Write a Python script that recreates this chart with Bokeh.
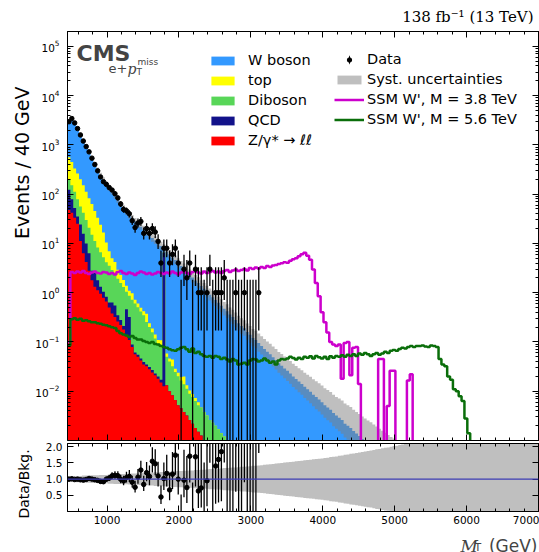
import numpy as np
from bokeh.plotting import figure
from bokeh.layouts import column
from bokeh.models import (Range1d, FixedTicker, LinearAxis, Label, Legend, LegendItem,
                          Span, NumeralTickFormatter, CustomLabelingPolicy, Title)
from bokeh.embed import file_html
from bokeh.resources import INLINE

# ---------------------------------------------------------------- binning
bin_width = 40
mt_min, mt_max = 450, 7000
n_bins = 164

# ---------------------------------------------------------------- backgrounds (events / bin)
wboson = [2390, 2940, 2490, 1880, 1420, 1080, 821, 625, 474, 361,
          276, 216, 178, 148, 125, 105, 87, 73, 61, 50,
          42.6, 35.9, 31.1, 27.3, 23.9, 21.4, 18.7, 16.3, 14.6, 12.7,
          11.4, 9.9, 8.8, 1.3, 6.74, 5.95, 5.16, 4.57, 3.98, 3.48,
          3.08, 2.69, 2.33, 2.03, 1.77, 1.57, 1.37, 1.20, 1.05, 0.91,
          0.81, 0.71, 0.62, 0.54, 0.47, 0.42, 0.36, 0.32, 0.28, 0.24,
          0.21, 0.19, 0.16, 0.14, 0.12, 0.11, 0.095, 0.083, 0.072, 0.063,
          0.056, 0.049, 0.043, 0.037, 0.033, 0.029, 0.026, 0.023, 0.020, 0.0178,
          0.0158, 0.0141, 0.0123, 0.0110, 0.0098, 0.0085, 0.0076, 0.0068, 0.0060, 0.0052,
          0.0047, 0.0042, 0.0036, 0.0032, 0.0029, 0.0026, 0.0022, 0.0020, 0.0018, 0.00155,
          0.00138, 0.00123, 0.00107, 0.00095, 0.00085, 0.00076, 0.00067, 0.0006, 0.00053, 0.00047,
          0.00042, 0.00037, 0.00033, 0.0003, 0.00026, 0.00023, 0.0002, 0.00018, 0.00016, 0.00014]

top = [362, 296, 219, 184, 144, 109, 82, 62, 48, 34.5,
       24.8, 17.4, 11.4, 6.3, 3.4, 2.1, 1.9, 1.0, 0.71, 0.5,
       0.33, 0.23, 0.25, 0.12, 0.10, 0.08, 0.07, 0.12, 0.04, 0.03,
       0.025, 0.017, 0.03, 0.011, 0.008, 0.006, 0.012, 0.004, 0.0035, 0.003,
       0.006, 0.002, 0.0015, 0.0012, 0.001, 0.0008]

diboson = [77, 72, 60, 44, 32, 26, 20, 14.6, 12.3, 8.7,
           6.5, 5.3, 4.2, 3.3, 2.9, 2.25, 1.74, 1.56, 1.3, 1.1,
           0.59, 0.55, 0.63, 0.54, 0.45, 0.37, 0.31, 0.22, 0.17, 0.13,
           0.094, 0.072, 0.061, 0.047, 0.037, 0.030, 0.024, 0.018, 0.015, 0.012,
           0.010, 0.008, 0.0063, 0.0054, 0.0045, 0.0037, 0.0034, 0.003, 0.0032, 0.0026,
           0.0023, 0.002, 0.0017, 0.0014, 0.0012, 0.0009]

qcd = [75, 37, 19, 10, 13, 9.5, 5.8, 3.5, 1.0, 1.2,
       0.66, 0.37, 0.26, 0.17, 0.13, 0.25, 0.23, 0.09, 0.06, 0.03,
       0.32, 0.21, 0.01, 0.005, 0.005, 0.004, 0.004, 0.003, 0.003, 0.003,
       0.002, 0.002, 0.002, 6.5]

dy = [47.9, 41.7, 33.1, 25.1, 11.2, 6.3, 4.2, 2.8, 1.78, 1.32,
      1.12, 0.95, 0.79, 0.66, 0.50, 0.38, 0.32, 0.26, 0.22, 0.18,
      0.14, 0.11, 0.079, 0.056, 0.050, 0.042, 0.035, 0.032, 0.028, 0.024,
      0.021, 0.018, 0.015, 0.0126, 0.0132, 0.010, 0.0083, 0.0066, 0.0052, 0.0045,
      0.0038, 0.0032, 0.0026, 0.0022, 0.0018, 0.0015, 0.00126, 0.0008]

# relative systematic uncertainty on the summed background (up / down)
syst_up = [0.10, 0.10, 0.10, 0.11, 0.11, 0.11, 0.12, 0.12, 0.12, 0.12,
           0.13, 0.13, 0.13, 0.14, 0.14, 0.14, 0.15, 0.15, 0.15, 0.15,
           0.16, 0.16, 0.17, 0.17, 0.18, 0.18, 0.19, 0.19, 0.20, 0.20,
           0.21, 0.21, 0.22, 0.22, 0.23, 0.23, 0.24, 0.24, 0.25, 0.25,
           0.26, 0.27, 0.27, 0.28, 0.29, 0.30, 0.30, 0.31, 0.32, 0.33,
           0.34, 0.35, 0.35, 0.36, 0.37, 0.38, 0.39, 0.40, 0.41, 0.42,
           0.44, 0.46, 0.48, 0.50, 0.52, 0.54, 0.56, 0.58, 0.60, 0.62,
           0.64, 0.66, 0.68, 0.70, 0.72, 0.74, 0.76, 0.78, 0.80, 0.82,
           0.85, 0.89, 0.93, 0.97, 1.01, 1.05, 1.09, 1.13, 1.17, 1.21,
           1.25, 1.30, 1.35, 1.40, 1.45, 1.50, 1.55, 1.60, 1.65, 1.70,
           1.76, 1.82, 1.88, 1.94, 2.00, 2.07, 2.14, 2.21, 2.28, 2.35,
           2.42, 2.50, 2.58, 2.66, 2.74, 2.82, 2.90, 2.98, 3.06, 3.14]
syst_down = [0.08, 0.08, 0.08, 0.08, 0.09, 0.09, 0.09, 0.09, 0.10, 0.10,
             0.10, 0.10, 0.11, 0.11, 0.11, 0.11, 0.12, 0.12, 0.12, 0.12,
             0.13, 0.13, 0.13, 0.14, 0.14, 0.14, 0.15, 0.15, 0.15, 0.16,
             0.16, 0.16, 0.17, 0.17, 0.17, 0.18, 0.18, 0.18, 0.19, 0.19,
             0.20, 0.20, 0.21, 0.21, 0.22, 0.22, 0.23, 0.23, 0.24, 0.24,
             0.25, 0.25, 0.26, 0.26, 0.27, 0.27, 0.28, 0.28, 0.29, 0.29,
             0.30, 0.30, 0.31, 0.31, 0.32, 0.32, 0.33, 0.33, 0.34, 0.34,
             0.35, 0.35, 0.36, 0.36, 0.37, 0.37, 0.38, 0.38, 0.39, 0.39,
             0.40, 0.40, 0.41, 0.41, 0.42, 0.42, 0.43, 0.43, 0.44, 0.44,
             0.45, 0.45, 0.46, 0.46, 0.47, 0.47, 0.48, 0.48, 0.49, 0.49,
             0.50, 0.50, 0.51, 0.51, 0.52, 0.52, 0.53, 0.53, 0.54, 0.54,
             0.55, 0.55, 0.56, 0.56, 0.57, 0.57, 0.58, 0.58, 0.59, 0.59]

# relative uncertainty band shown in the ratio panel
ratio_unc = [0.09, 0.09, 0.10, 0.10, 0.10, 0.11, 0.11, 0.11, 0.12, 0.12,
             0.12, 0.13, 0.13, 0.13, 0.14, 0.14, 0.15, 0.15, 0.15, 0.16,
             0.16, 0.17, 0.17, 0.17, 0.18, 0.18, 0.19, 0.19, 0.20, 0.20,
             0.21, 0.21, 0.22, 0.22, 0.23, 0.23, 0.24, 0.24, 0.25, 0.25,
             0.26, 0.26, 0.27, 0.27, 0.28, 0.28, 0.29, 0.29, 0.30, 0.31,
             0.31, 0.32, 0.32, 0.33, 0.34, 0.34, 0.35, 0.36, 0.36, 0.37,
             0.38, 0.38, 0.39, 0.40, 0.41, 0.41, 0.42, 0.43, 0.44, 0.45,
             0.46, 0.47, 0.48, 0.49, 0.50, 0.51, 0.52, 0.53, 0.54, 0.55,
             0.56, 0.57, 0.58, 0.59, 0.60, 0.61, 0.62, 0.63, 0.64, 0.65,
             0.66, 0.68, 0.69, 0.70, 0.72, 0.73, 0.75, 0.76, 0.78, 0.79,
             0.81, 0.82, 0.84, 0.85, 0.87, 0.88, 0.90, 0.92, 0.93, 0.95,
             0.97, 0.98, 1.00, 1.02, 1.03, 1.05, 1.07, 1.09, 1.11, 1.13,
             1.15, 1.17, 1.19, 1.21, 1.23, 1.25, 1.27, 1.29, 1.31, 1.33,
             1.35, 1.37, 1.39, 1.41, 1.43, 1.45, 1.47, 1.49, 1.51, 1.53,
             1.55, 1.57, 1.59, 1.61, 1.63, 1.65, 1.67, 1.69, 1.71, 1.73,
             1.75, 1.77, 1.79, 1.81, 1.83, 1.85, 1.87, 1.89, 1.91, 1.93,
             1.95, 1.97, 1.99, 2.01]

# ---------------------------------------------------------------- observed events / bin
data = [2950, 3420, 2790, 2140, 1588, 1193, 924, 722, 537, 399,
        297, 223, 179, 158, 136, 121, 102, 84, 63, 49,
        46, 40, 29, 21, 26, 28, 16, 20, 16, 20,
        17, 11, 4, 8, 8, 4, 6, 8, 4, 0,
        3, 2, 4, 0, 3, 1, 1, 0, 1, 3,
        0, 1, 1, 1, 2, 0, 0, 0, 1, 0,
        0, 1, 0, 0, 0, 0, 1]

# ---------------------------------------------------------------- SSM W' signals (events / bin)
sig_38 = [0.1, 2.63, 2.51, 2.69, 2.57, 2.75, 2.51, 2.40, 2.57, 2.69,
          2.51, 2.45, 2.63, 2.57, 2.40, 2.51, 2.34, 2.63, 2.75, 2.51,
          2.40, 2.57, 2.45, 2.29, 2.51, 2.69, 2.57, 2.40, 2.51, 2.34,
          2.45, 2.63, 2.51, 2.40, 2.57, 2.45, 2.69, 2.51, 2.34, 2.57,
          2.75, 2.51, 2.40, 2.63, 2.82, 2.57, 2.45, 2.69, 2.51, 2.63,
          2.75, 2.57, 2.69, 2.51, 2.75, 2.88, 2.63, 2.82, 2.95, 2.75,
          2.88, 3.02, 2.82, 3.16, 3.02, 3.24, 3.09, 3.31, 3.16, 3.47,
          3.31, 3.55, 3.63, 3.80, 3.98, 4.17, 4.07, 4.47, 4.79, 5.01,
          5.50, 6.03, 6.46, 5.62, 4.68, 2.95, 1.58, 0.85, 0.40, 0.25,
          0.155, 0.10, 0.089, 0.083, 0.089, 0.018, 0.095, 0.10, 0.021, 0.076,
          0.079, 0.014, 0, 0, 0, 0, 0, 0, 0.045, 0.045,
          0, 0.005, 0.026, 0.026, 0, 0, 0, 0, 0.0166, 0.022]

sig_56 = [0.085, 0.288, 0.302, 0.282, 0.295, 0.269, 0.275, 0.263, 0.251, 0.251,
          0.240, 0.234, 0.224, 0.219, 0.209, 0.200, 0.191, 0.166, 0.151, 0.141,
          0.135, 0.126, 0.132, 0.120, 0.112, 0.112, 0.105, 0.100, 0.095, 0.100,
          0.091, 0.089, 0.083, 0.079, 0.076, 0.071, 0.068, 0.066, 0.071, 0.076,
          0.079, 0.071, 0.063, 0.074, 0.060, 0.063, 0.056, 0.052, 0.050, 0.052,
          0.048, 0.052, 0.050, 0.045, 0.048, 0.044, 0.040, 0.045, 0.042, 0.035,
          0.036, 0.038, 0.035, 0.042, 0.045, 0.044, 0.040, 0.042, 0.046, 0.042,
          0.038, 0.040, 0.035, 0.042, 0.045, 0.044, 0.046, 0.050, 0.047, 0.044,
          0.048, 0.045, 0.050, 0.048, 0.051, 0.046, 0.052, 0.049, 0.046, 0.050,
          0.045, 0.051, 0.048, 0.052, 0.050, 0.054, 0.050, 0.055, 0.052, 0.056,
          0.052, 0.058, 0.055, 0.060, 0.056, 0.052, 0.056, 0.060, 0.055, 0.058,
          0.063, 0.060, 0.066, 0.069, 0.066, 0.072, 0.076, 0.074, 0.079, 0.083,
          0.079, 0.083, 0.083, 0.085, 0.081, 0.079, 0.085, 0.083, 0.079, 0.045,
          0.035, 0.032, 0.020, 0.017, 0.011, 0.010, 0.0079, 0.0063, 0.0028, 0.0014,
          0.0006]

x_major = [1000, 2000, 3000, 4000, 5000, 6000, 7000]
y_major = [1e-2, 1e-1, 1e0, 1e1, 1e2, 1e3, 1e4, 1e5]
ratio_ticks = [0.5, 1.0, 1.5, 2.0]

# ---------------------------------------------------------------- styling constants
C_W, C_TOP, C_DIB, C_QCD, C_DY = "#3399ff", "#ffff00", "#58d658", "#12128a", "#ff0000"
C_BAND = "#808080"
C_S38, C_S56 = "#cc00cc", "#0a6e0a"
FONT = "DejaVu Sans"
TICK_FONT_SIZE = "10.5px"
FLOOR = 1e-8

edges = mt_min + bin_width * np.arange(n_bins + 1)
centers = edges[:-1] + bin_width / 2


def full(vals):
    vals = np.asarray(vals, float)
    return np.concatenate([vals, np.zeros(n_bins - len(vals))])


def stepped(vals):
    return np.repeat(np.maximum(vals, FLOOR), 2)


def garwood(n):
    n = np.asarray(n, float)
    m = np.maximum(n, 1.0)
    lo = np.where(n > 0, n * (1 - 1 / (9 * m) - 1 / (3 * np.sqrt(m))) ** 3, 0.0)
    k = n + 1
    hi = k * (1 - 1 / (9 * k) + 1 / (3 * np.sqrt(k))) ** 3
    return lo, hi


xs = np.repeat(edges, 2)[1:-1]

c1 = full(dy)
c2 = c1 + full(qcd)
c3 = c2 + full(diboson)
c4 = c3 + full(top)
total = c4 + full(wboson)

# tick-only axes (top / right sides): suppress every label
no_labels = CustomLabelingPolicy(code="for (const i of indices) { indices.unset(i) }\nreturn indices")


def style_axis(ax, show_labels=True, standoff=5):
    ax.major_tick_in = 6
    ax.major_tick_out = 0
    ax.minor_tick_in = 3
    ax.minor_tick_out = 0
    ax.axis_line_color = "black"
    ax.major_tick_line_color = "black"
    ax.minor_tick_line_color = "black"
    ax.major_label_text_font = FONT
    ax.major_label_text_color = "black"
    if show_labels:
        ax.major_label_text_font_size = TICK_FONT_SIZE
        ax.major_label_standoff = standoff
    else:
        ax.major_label_text_font_size = "0px"
        ax.major_label_standoff = 0
        ax.major_label_policy = no_labels


x_ticker = FixedTicker(ticks=x_major, minor_ticks=list(range(600, 7001, 200)))
y_ticker = FixedTicker(ticks=y_major,
                       minor_ticks=[m * 10.0 ** e for e in range(-3, 6) for m in range(2, 10)])

# ---------------------------------------------------------------- main panel
p = figure(width=539, height=442, x_range=Range1d(mt_min, mt_max),
           y_range=Range1d(1e-3, 2e5), y_axis_type="log",
           toolbar_location=None, output_backend="svg",
           min_border_left=67, min_border_right=1, min_border_top=29, min_border_bottom=2)
p.grid.visible = False
p.outline_line_color = "black"
p.background_fill_color = "white"
p.border_fill_color = "white"

p.xaxis.ticker = x_ticker
p.yaxis.ticker = y_ticker
style_axis(p.xaxis[0], show_labels=False)
style_axis(p.yaxis[0], standoff=8)
ax_top = LinearAxis(ticker=x_ticker)
style_axis(ax_top, show_labels=False)
p.add_layout(ax_top, "above")
ax_right = LinearAxis(ticker=y_ticker)
style_axis(ax_right, show_labels=False)
p.add_layout(ax_right, "right")

p.add_layout(Title(text="138 fb⁻¹ (13 TeV)", align="right", offset=5, standoff=11,
                   text_font="DejaVu Serif", text_font_size="15px",
                   text_font_style="normal", text_color="black"), "above")
p.add_layout(Title(text="Events / 40 GeV", align="right", offset=55, standoff=0,
                   text_font=FONT, text_font_size="19px",
                   text_font_style="normal", text_color="black"), "left")

r_w = p.varea(x=xs, y1=FLOOR, y2=stepped(total), fill_color=C_W)
r_top = p.varea(x=xs, y1=FLOOR, y2=stepped(c4), fill_color=C_TOP)
r_dib = p.varea(x=xs, y1=FLOOR, y2=stepped(c3), fill_color=C_DIB)
r_qcd = p.varea(x=xs, y1=FLOOR, y2=stepped(c2), fill_color=C_QCD)
r_dy = p.varea(x=xs, y1=FLOOR, y2=stepped(c1), fill_color=C_DY)

band_lo = total * (1 - full(syst_down))
band_hi = total * (1 + full(syst_up))
r_band = p.varea(x=xs, y1=stepped(band_lo), y2=stepped(band_hi),
                 fill_color=C_BAND, fill_alpha=0.5)

r_s38 = p.line(x=xs, y=stepped(full(sig_38)), line_color=C_S38, line_width=2.5)
r_s56 = p.line(x=xs, y=stepped(full(sig_56)), line_color=C_S56, line_width=2.5)

obs = np.asarray(data, float)
n_obs = len(obs)
cx = centers[:n_obs]
lo, hi = garwood(obs)
has = obs > 0
p.segment(x0=cx, y0=np.maximum(lo, FLOOR), x1=cx, y1=hi, line_color="black", line_width=1.3)
r_pts = p.scatter(x=cx[has], y=obs[has], size=4.5, fill_color="black", line_color="black")
# vertical-bar swatch for the data legend entry (kept outside the visible range)
r_bar = p.ellipse(x=[mt_min - 2000], y=[1.0], width=1.5, height=11,
                  width_units="screen", height_units="screen",
                  fill_color="black", line_color=None)

legend_kw = dict(glyph_height=11, spacing=4, padding=0, margin=0,
                 border_line_color=None, background_fill_alpha=0,
                 label_text_font=FONT, label_text_font_size="14.5px", label_height=11,
                 label_text_color="black")
leg1 = Legend(items=[LegendItem(label="W boson", renderers=[r_w]),
                     LegendItem(label="top", renderers=[r_top]),
                     LegendItem(label="Diboson", renderers=[r_dib]),
                     LegendItem(label="QCD", renderers=[r_qcd]),
                     LegendItem(label="Z/γ* → ℓℓ", renderers=[r_dy])],
              location=(141, 292), glyph_width=29, label_standoff=11, **legend_kw)
leg2 = Legend(items=[LegendItem(label="Data", renderers=[r_bar, r_pts]),
                     LegendItem(label="Syst. uncertainties", renderers=[r_band]),
                     LegendItem(label="SSM W', M = 3.8 TeV", renderers=[r_s38]),
                     LegendItem(label="SSM W', M = 5.6 TeV", renderers=[r_s56])],
              location=(267, 313), glyph_width=30, label_standoff=3, **legend_kw)
p.add_layout(leg1)
p.add_layout(leg2)

p.add_layout(Label(x=9, y=387, x_units="screen", y_units="screen", text="CMS",
                   text_font=FONT, text_font_style="bold", text_font_size="22px",
                   text_baseline="alphabetic"))
p.add_layout(Label(x=41, y=372, x_units="screen", y_units="screen", text="e+",
                   text_font=FONT, text_font_size="13px", text_baseline="alphabetic"))
p.add_layout(Label(x=60, y=372, x_units="screen", y_units="screen", text="p",
                   text_font="DejaVu Serif", text_font_style="italic",
                   text_font_size="14px", text_baseline="alphabetic"))
p.add_layout(Label(x=69, y=369, x_units="screen", y_units="screen", text="T",
                   text_font=FONT, text_font_size="9px", text_baseline="alphabetic"))
p.add_layout(Label(x=70, y=379, x_units="screen", y_units="screen", text="miss",
                   text_font=FONT, text_font_size="9px", text_baseline="alphabetic"))

# ---------------------------------------------------------------- ratio panel
r = figure(width=539, height=86, x_range=p.x_range, y_range=Range1d(0, 2.1),
           toolbar_location=None, output_backend="svg",
           min_border_left=67, min_border_right=1, min_border_top=1, min_border_bottom=17)
r.grid.visible = False
r.outline_line_color = "black"
r.background_fill_color = "white"
r.border_fill_color = "white"

r.xaxis.ticker = x_ticker
r.xaxis.formatter = NumeralTickFormatter(format="0")
r_ticker = FixedTicker(ticks=ratio_ticks, minor_ticks=[])
r.yaxis.ticker = r_ticker
r.yaxis.formatter = NumeralTickFormatter(format="0.0")
style_axis(r.xaxis[0], standoff=4)
style_axis(r.yaxis[0], standoff=5)
rax_top = LinearAxis(ticker=x_ticker)
style_axis(rax_top, show_labels=False)
r.add_layout(rax_top, "above")
rax_right = LinearAxis(ticker=r_ticker)
style_axis(rax_right, show_labels=False)
r.add_layout(rax_right, "right")
r.add_layout(Title(text="Data/Bkg.", align="left", offset=-7, standoff=20,
                   vertical_align="middle",
                   text_font=FONT, text_font_size="14px",
                   text_font_style="normal", text_color="black"), "left")

unc = np.asarray(ratio_unc, float)
r.varea(x=xs, y1=np.repeat(np.clip(1 - unc, 0, None), 2), y2=np.repeat(1 + unc, 2),
        fill_color=C_BAND, fill_alpha=0.5)
r.add_layout(Span(location=1.0, dimension="width", line_color="#3c3cb4", line_width=1.2))

tot_obs = total[:n_obs]
r.segment(x0=cx, y0=lo / tot_obs, x1=cx, y1=hi / tot_obs, line_color="black", line_width=1.3)
r.scatter(x=cx[has], y=(obs / tot_obs)[has], size=4.5, fill_color="black", line_color="black")

# ---------------------------------------------------------------- x-axis title strip
# (its frame lines up with the panels above, so positions are frame-relative)
s = figure(width=539, height=24, x_range=Range1d(0, 1), y_range=Range1d(0, 1),
           x_axis_type=None, y_axis_type=None, toolbar_location=None,
           output_backend="svg", min_border=0)
s.grid.visible = False
s.outline_line_color = None
s.add_layout(Label(x=393, y=7, x_units="screen", y_units="screen", text="M",
                   text_font="DejaVu Serif", text_font_style="italic",
                   text_font_size="17px", text_baseline="alphabetic"))
s.add_layout(Label(x=407, y=5, x_units="screen", y_units="screen", text="T",
                   text_font=FONT, text_font_size="11px", text_baseline="alphabetic"))
s.add_layout(Label(x=470, y=7, x_units="screen", y_units="screen", text="(GeV)",
                   text_font=FONT, text_font_size="17px", text_align="right",
                   text_baseline="alphabetic"))

layout = column(p, r, s, spacing=0)
open("out.html", "w").write(file_html(layout, INLINE))
